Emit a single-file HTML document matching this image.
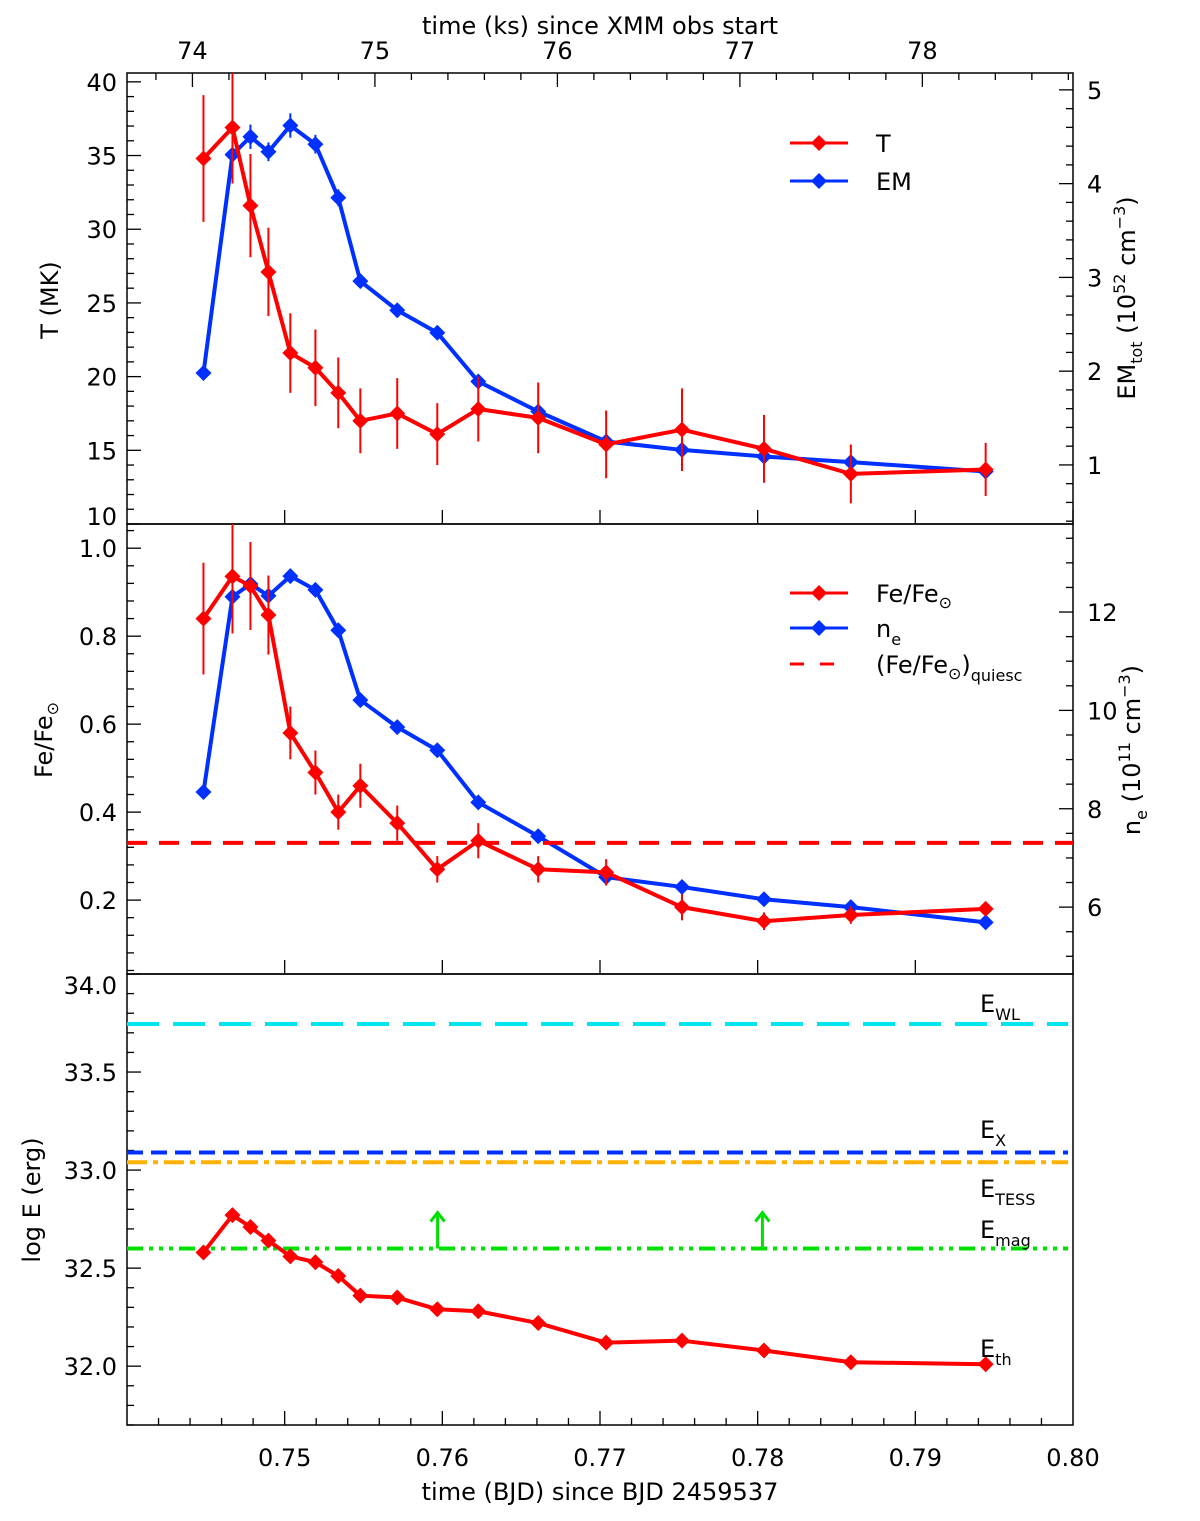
<!DOCTYPE html>
<html><head><meta charset="utf-8"><style>
body{margin:0;background:#fff}
svg text{font-family:"DejaVu Sans","Liberation Sans",sans-serif;fill:#000}
</style></head><body>
<svg id="c" width="1200" height="1516" viewBox="0 0 1200 1516"></svg>
<script>
const times=[0.74485,0.74669,0.74783,0.74897,0.75036,0.75195,0.75340,0.75480,0.75714,0.75968,0.76228,0.76608,0.77039,0.77520,0.78040,0.78591,0.79446];
const tempVals=[34.8,36.9,31.6,27.1,21.6,20.6,18.9,17.0,17.5,16.1,17.8,17.2,15.4,16.4,15.1,13.4,13.7];
const tempErr=[4.3,3.8,3.5,3.0,2.7,2.6,2.4,2.2,2.4,2.1,2.2,2.4,2.3,2.8,2.3,2.0,1.8];
const emVals=[1.98,4.31,4.50,4.34,4.62,4.42,3.85,2.96,2.65,2.41,1.89,1.57,1.25,1.16,1.09,1.03,0.93];
const emErr=[0.05,0.14,0.13,0.1,0.13,0.1,0.09,0.07,0.06,0.06,0.05,0.04,0.04,0.03,0.03,0.03,0.03];
const feVals=[0.84,0.936,0.914,0.848,0.58,0.49,0.40,0.46,0.375,0.27,0.335,0.27,0.263,0.184,0.152,0.166,0.18];
const feErr=[0.127,0.13,0.1,0.09,0.06,0.05,0.04,0.05,0.04,0.03,0.04,0.03,0.03,0.03,0.02,0.02,0.015];
const neVals=[8.34,12.31,12.57,12.33,12.73,12.45,11.63,10.21,9.66,9.19,8.13,7.44,6.61,6.41,6.16,6.0,5.69];
const feQuiesc=0.33;
const ethVals=[32.58,32.77,32.71,32.64,32.56,32.53,32.46,32.36,32.35,32.29,32.28,32.22,32.12,32.13,32.08,32.02,32.01];
const eWL=33.745, eX=33.09, eTESS=33.04, eMag=32.6;
const magArrowTimes=[0.7597,0.7803];
const xTicks=[0.75,0.76,0.77,0.78,0.79,0.80];
const ksTicks=[74,75,76,77,78];
const tTicks=[10,15,20,25,30,35,40];
const emTicks=[1,2,3,4,5];
const feTicks=[0.2,0.4,0.6,0.8,1.0];
const neTicks=[6,8,10,12];
const eTicks=[32.0,32.5,33.0,33.5,34.0];

const svg=document.getElementById('c');
const NS='http://www.w3.org/2000/svg';
function mk(tag,attrs,parent){const e=document.createElementNS(NS,tag);for(const k in attrs)e.setAttribute(k,attrs[k]);(parent||svg).appendChild(e);return e;}
const L=127,R=1073;
const X=t=>L+(t-0.74)/0.06*(R-L);
const ksToT=k=>0.74415+(k-74)*0.011574;
function lin(d0,d1,p0,p1){return v=>p0+(v-d0)/(d1-d0)*(p1-p0);}
const P1={top:73,bot:524}, P2={top:524,bot:974}, P3={top:974,bot:1425};
const yT=lin(10,40.6,524,73), yEM=lin(0.37,5.18,524,73);
const yFe=lin(0.032,1.055,974,524), yNe=lin(4.64,13.79,974,524);
const yE=lin(31.70,34.0,1425,974);
const FS=24;

const defs=mk('defs',{});
[[P1,'c1'],[P2,'c2'],[P3,'c3']].forEach(function(a){const p=a[0];const cp=mk('clipPath',{id:a[1]},defs);mk('rect',{x:L,y:p.top,width:R-L,height:p.bot-p.top},cp);});

[P1,P2,P3].forEach(function(p,i){const r=mk('rect',{x:L,y:p.top,width:R-L,height:p.bot-p.top,fill:'none',stroke:'#000','stroke-width':1.5});

});

function text(x,y,s,size,anchor,name,rot){const t=mk('text',{x:x,y:y,'font-size':size,'text-anchor':anchor||'middle'});t.textContent=s;
if(rot)t.setAttribute('transform','rotate('+rot+' '+x+' '+y+')');

return t;}
function tick(x1,y1,x2,y2){mk('line',{x1:x1,y1:y1,x2:x2,y2:y2,stroke:'#000','stroke-width':1.3});}

for(let i=1;i<30;i++){const t=0.74+i*0.002;const x=X(t);const len=(i%5===0)?14:7;tick(x,P3.bot,x,P3.bot-len);}
xTicks.forEach(function(t){const x=X(t);tick(x,P2.bot,x,P2.bot-14);tick(x,P1.bot,x,P1.bot-14);
 text(x,1466,t.toFixed(2),FS,'middle','x-tick-label');});
for(let i=0;i<28;i++){const k=73.6+i*0.2;const x=X(ksToT(k));if(x<L||x>R)continue;const maj=Math.abs(k-Math.round(k))<0.01;tick(x,P1.top,x,P1.top+(maj?14:7));}
ksTicks.forEach(function(k){text(X(ksToT(k)),59,String(k),FS,'middle','top-x-tick-label');});
text(600,1500,'time (BJD) since BJD 2459537',FS,'middle','x-axis-title');
text(600,34,'time (ks) since XMM obs start',FS,'middle','top-x-axis-title');

function yaxis(fn,lo,hi,minor,majors,side,fmt,p,name){
 const n=Math.round((hi-lo)/minor);
 for(let i=0;i<=n;i++){const v=lo+i*minor;const y=fn(v);if(y<p.top-0.5||y>p.bot+0.5)continue;
  const isMaj=majors.some(function(m){return Math.abs(m-v)<1e-6;});const len=isMaj?14:7;
  if(side==='L')tick(L,y,L+len,y);else tick(R,y,R-len,y);}
 majors.forEach(function(v){let y=fn(v)+9;
  if(y-18<p.top&&side==='L'&&fn(v)<p.top+3)y=p.top+20;
  if(fn(v)>p.bot-3&&side==='L')y=p.bot+1;
  if(side==='L')text(L-10,y,fmt(v),FS,'end',name);else text(R+14,y,fmt(v),FS,'start',name);});
}
yaxis(yT,10,40,1,tTicks,'L',function(v){return String(v);},P1,'temperature-tick-label');
yaxis(yEM,0.4,5.0,0.2,emTicks,'R',function(v){return String(v);},P1,'em-tick-label');
yaxis(yFe,0.04,1.04,0.04,feTicks,'L',function(v){return v.toFixed(1);},P2,'fe-tick-label');
yaxis(yNe,5,13.5,0.5,neTicks,'R',function(v){return String(v);},P2,'ne-tick-label');
yaxis(yE,31.7,34.0,0.1,eTicks,'L',function(v){return v.toFixed(1);},P3,'energy-tick-label');

text(58,300,'T (MK)',FS,'middle','temperature-axis-title',-90);
function richText(x,y,html,name,rot){const t=mk('text',{x:x,y:y,'font-size':FS,'text-anchor':rot?'middle':'start'});
 if(rot)t.setAttribute('transform','rotate('+rot+' '+x+' '+y+')');
 t.innerHTML=html;
 
 return t;}
richText(1135,298,'EM<tspan font-size="16" dy="7">tot</tspan><tspan dy="-7"> (10</tspan><tspan font-size="16" dy="-10">52</tspan><tspan dy="10"> cm</tspan><tspan font-size="16" dy="-10">−3</tspan><tspan dy="10">)</tspan>','em-axis-title',-90);
richText(52,740,'Fe/Fe<tspan font-size="16" dy="6">⊙</tspan>','fe-axis-title',-90);
richText(1140,750,'n<tspan font-size="16" dy="7">e</tspan><tspan dy="-7"> (10</tspan><tspan font-size="16" dy="-10">11</tspan><tspan dy="10"> cm</tspan><tspan font-size="16" dy="-10">−3</tspan><tspan dy="10">)</tspan>','ne-axis-title',-90);
text(40,1200,'log E (erg)',FS,'middle','energy-axis-title',-90);

function series(vals,err,fn,color,clip,name){
 const g=mk('g',{'clip-path':'url(#'+clip+')'});
 
 
 if(err)vals.forEach(function(v,i){const x=X(times[i]);mk('line',{x1:x,x2:x,y1:fn(v-err[i]),y2:fn(v+err[i]),stroke:color,'stroke-width':2},g);});
 mk('polyline',{points:vals.map(function(v,i){return X(times[i])+','+fn(v);}).join(' '),fill:'none',stroke:color,'stroke-width':4,'stroke-linejoin':'round'},g);
 vals.forEach(function(v,i){const x=X(times[i]),y=fn(v);const m=mk('polygon',{points:x+','+(y-8)+' '+(x+8)+','+y+' '+x+','+(y+8)+' '+(x-8)+','+y,fill:color},g);
  
  });
}
const RED='#ff0000',BLUE='#0030ff';
series(emVals,emErr,yEM,BLUE,'c1','em-series');
series(tempVals,tempErr,yT,RED,'c1','temperature-series');
series(neVals,null,yNe,BLUE,'c2','ne-series');
series(feVals,feErr,yFe,RED,'c2','fe-series');

function hline(y,color,dash,name,x2){const l=mk('line',{x1:L,x2:x2||R,y1:y,y2:y,stroke:color,'stroke-width':4,'stroke-dasharray':dash});
 
 }
hline(yFe(feQuiesc),RED,'20 12','fe-quiescent-line');
hline(yE(eWL),'#00e5ee','32 14','e-wl-line',1068);
hline(yE(eX),BLUE,'16 8','e-x-line',1068);
hline(yE(eTESS),'#ffb000','20 6 5 6','e-tess-line',1068);
hline(yE(eMag),'#00e000','16 6 4 6 4 6 4 6','e-mag-line',1068);
magArrowTimes.forEach(function(t){const x=X(t),y0=yE(eMag),y1=y0-36;
 const g=mk('g',{stroke:'#00e000','stroke-width':3,fill:'none'});
 
 
 mk('line',{x1:x,x2:x,y1:y0,y2:y1},g);
 mk('polyline',{points:(x-7)+','+(y1+9)+' '+x+','+y1+' '+(x+7)+','+(y1+9)},g);});
series(ethVals,null,yE,RED,'c3','e-th-series');

function lbl(x,y,main,sub,name){richText(x,y,main+'<tspan font-size="16" dy="8">'+sub+'</tspan>',name);}
lbl(980,1012,'E','WL','e-wl-label');
lbl(980,1138,'E','X','e-x-label');
lbl(980,1197,'E','TESS','e-tess-label');
lbl(980,1238,'E','mag','e-mag-label');
lbl(980,1357,'E','th','e-th-label');

function legLine(y,color,dash,marker,name){const g=mk('g',{});
 
 
 mk('line',{x1:790,x2:848,y1:y,y2:y,stroke:color,'stroke-width':3,'stroke-dasharray':dash||'none'},g);
 if(marker)mk('polygon',{points:'819,'+(y-8)+' 827,'+y+' 819,'+(y+8)+' 811,'+y,fill:color},g);}
legLine(143,RED,null,true,'legend-temperature');
text(876,152,'T',FS,'start','legend-temperature-label');
legLine(181,BLUE,null,true,'legend-em');
text(876,190,'EM',FS,'start','legend-em-label');
legLine(593,RED,null,true,'legend-fe');
richText(876,602,'Fe/Fe<tspan font-size="16" dy="6">⊙</tspan>','legend-fe-label');
legLine(628,BLUE,null,true,'legend-ne');
richText(876,637,'n<tspan font-size="16" dy="8">e</tspan>','legend-ne-label');
legLine(664,RED,'14 16',false,'legend-fe-quiescent');
richText(876,673,'(Fe/Fe<tspan font-size="16" dy="6">⊙</tspan><tspan dy="-6">)</tspan><tspan font-size="16" dy="8">quiesc</tspan>','legend-fe-quiescent-label');
</script>
</body></html>
